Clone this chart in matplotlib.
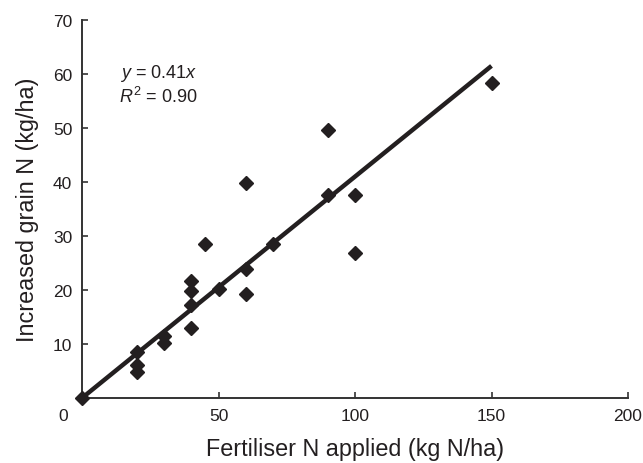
import matplotlib
matplotlib.use("Agg")
import matplotlib.pyplot as plt
import numpy as np

plt.rcParams['font.family'] = ['Liberation Sans', 'DejaVu Sans']
plt.rcParams['mathtext.fontset'] = 'custom'
plt.rcParams['mathtext.rm'] = 'Liberation Sans'
plt.rcParams['mathtext.it'] = 'Liberation Sans:italic'

# data
fert_n = [0, 20, 20, 20, 30, 30, 40, 40, 40, 40, 45, 50, 60, 60, 60, 70, 90, 90, 100, 100, 150]
grain_n = [0, 8.5, 6.1, 4.8, 11.4, 10.2, 21.7, 19.8, 17.3, 12.9, 28.5, 20.2, 39.8, 23.8, 19.3, 28.5, 49.6, 37.6, 37.6, 26.9, 58.3]
slope = 0.41
line_x = [0, 150]
x_ticks = [0, 50, 100, 150, 200]
y_ticks = [10, 20, 30, 40, 50, 60, 70]

txt = '#231f20'
fig = plt.figure(figsize=(6.43, 4.64), dpi=100)
ax = fig.add_axes([82/643, 65/464, 546/643, 378/464])

ax.plot(line_x, [slope * v for v in line_x], color=txt, lw=3.2, solid_capstyle='butt', zorder=2)
ax.plot(fert_n, grain_n, linestyle='none', marker='D', ms=7, color=txt, clip_on=False, zorder=3)

ax.set_xlim(0, 200)
ax.set_ylim(0, 70)
ax.set_xticks(x_ticks)
ax.set_xticklabels([''] + [str(v) for v in x_ticks[1:]])
ax.set_yticks(y_ticks)
ax.set_yticklabels([str(v) for v in y_ticks])
ax.annotate('0', xy=(0, 0), xycoords='data', xytext=(-19, -18), textcoords='offset pixels',
            ha='center', va='center', fontsize=12.5, color=txt)

for s in ['top', 'right']:
    ax.spines[s].set_visible(False)
for s in ['left', 'bottom']:
    ax.spines[s].set_color('#333333')
    ax.spines[s].set_linewidth(1.4)
ax.tick_params(direction='in', length=4.5, width=1.2, colors='#333333', labelcolor=txt,
               labelsize=12.5, pad=7)

ax.set_xlabel('Fertiliser N applied (kg N/ha)', fontsize=16.8, color=txt, labelpad=10)
ax.set_ylabel('Increased grain N (kg/ha)', fontsize=16.8, color=txt, labelpad=10)

fig.text(120/643, 1 - 73/464, r'$\it{y}$ = 0.41$\it{x}$', fontsize=13, color=txt, va='center', ha='left')
fig.text(119/643, 1 - 97/464, r'$\it{R}^{2}$ = 0.90', fontsize=13, color=txt, va='center', ha='left')

fig.savefig('out.png', dpi=100)
